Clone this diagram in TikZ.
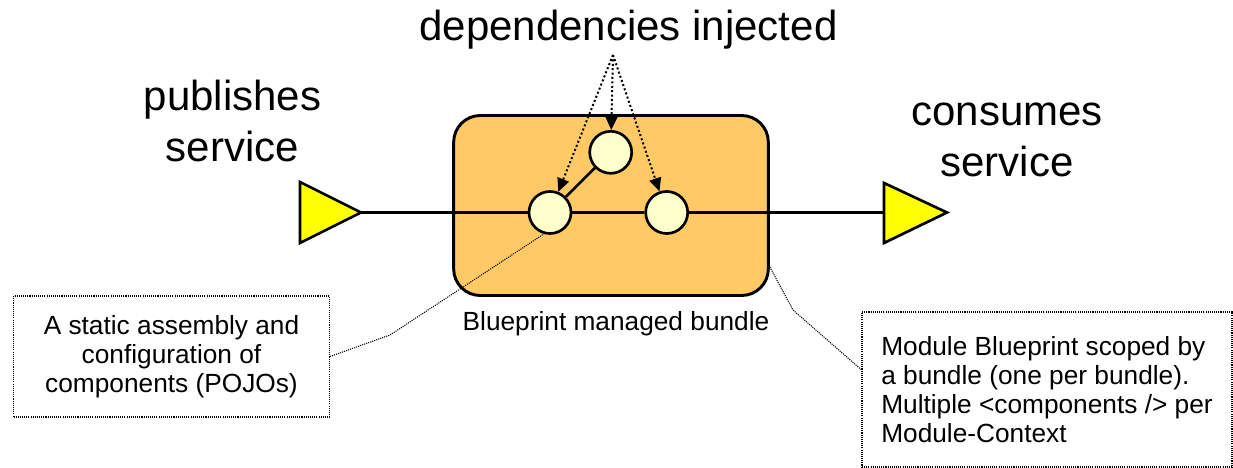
\documentclass[tikz,border=0pt]{standalone}
\usepackage{fontspec}
\setmainfont{Liberation Sans}
\usetikzlibrary{arrows.meta,calc}

\definecolor{bundlefill}{HTML}{FFC966}
\definecolor{compfill}{HTML}{FFFFCC}
\definecolor{portfill}{HTML}{FFFF00}

\begin{document}
\begin{tikzpicture}[x=0.75pt,y=-0.75pt,
  wire/.style={line width=2pt},
  comp/.style={circle, draw, line width=2pt, fill=compfill,
    minimum size=31.5pt, inner sep=0pt},
  bundlebox/.style={draw, line width=2.2pt, fill=bundlefill,
    rounded corners=20pt, minimum width=236pt, minimum height=135pt},
  port/.style={draw, line width=2pt, fill=portfill, line join=miter},
  inject/.style={line width=1.5pt, dash pattern=on 1.5pt off 1.8pt,
    -{Triangle[length=10pt,width=9pt]}},
  leader/.style={line width=0.8pt, dash pattern=on 0.8pt off 0.8pt},
  notebox/.style={draw, leader, inner sep=0pt},
  note/.style={font=\fontsize{19.7}{21.6}\selectfont},
  big/.style={font=\fontsize{31.5}{38}\selectfont}
]
\useasboundingbox (0,0) rectangle (1233,468);

% the bundle and its components
\node[bundlebox] (bundle) at (611,205.5) {};
\node[note, anchor=base] (bundlelbl) at (616,330) {Blueprint managed bundle};

\coordinate (pubtip) at (361,212.5);
\coordinate (conbase) at (884,212.5);

\node[comp] (c2) at (610.7,152.3) {};
\node[comp] (c1) at (550,212.5) {};
\node[comp] (c3) at (666.7,212.5) {};

% service wiring
\draw[wire] (pubtip) -- (c1);
\draw[wire] (c1) -- (c3);
\draw[wire] (c3) -- (conbase);
\draw[wire] (c2) -- (c1);

% service ports
\draw[port] (300,182) -- (pubtip) -- (300,243) -- cycle;
\draw[port] (884,183) -- (947,212.5) -- (884,243) -- cycle;

% labels (base anchor sits on the last line)
\node[big, anchor=base] (inj) at (628.5,40) {dependencies injected};
\node[big, anchor=base, align=center] (pub) at (232.5,161) {publishes\\service};
\node[big, anchor=base, align=center] (con) at (1007,176) {consumes\\service};

% injection arrows
\coordinate (src) at (613,55);
\draw[inject] (src) -- (c2);
\draw[inject] (src) -- (c1);
\draw[inject] (src) -- (c3);

% notes
\node[notebox, note, align=center, minimum width=237pt, minimum height=90.75pt]
  (lbox) at (171.5,356.5) {A static assembly and\\configuration of\\components (POJOs)};
\node[notebox, note, align=left, minimum width=277.5pt, minimum height=116.25pt]
  (rbox) at (1047,389.5) {Module Blueprint scoped by\\a bundle (one per bundle).\\Multiple <components /> per\\Module-Context};

\coordinate (lbend) at (390,335);
\draw[leader] (lbox.east) -- (lbend) -- (c1.254);
\coordinate (rbend) at (793,310);
\draw[leader] ($(bundle.north east)!0.836!(bundle.south east)$) -- (rbend)
  -- ($(rbox.north west)!0.374!(rbox.south west)$);
\end{tikzpicture}
\end{document}
